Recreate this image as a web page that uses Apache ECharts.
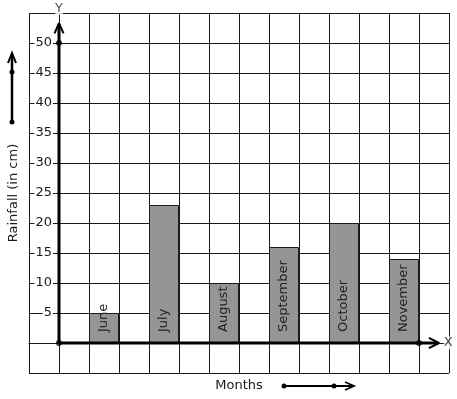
<!DOCTYPE html>
<html>
<head>
<meta charset="utf-8">
<script src="https://cdn.jsdelivr.net/npm/echarts@6/dist/echarts.min.js"></script>
<style>
  html, body { margin: 0; padding: 0; background: #fff; }
  #chart { width: 457px; height: 399px; }
</style>
</head>
<body>
<div id="chart"></div>
<script>
// rainfall per month (cm)
var months = ["June", "July", "August", "September", "October", "November"];
var rainfall = [5, 23, 10, 16, 20, 14];
var yTicks = [5, 10, 15, 20, 25, 30, 35, 40, 45, 50];

var ink = "#1a1a1a";
var font = "DejaVu Sans";

// each month sits in every other grid column, starting at x = 1
var barData = months.map(function (m, i) {
  return { value: [i * 2 + 1.5, rainfall[i]], name: m };
});

var chart = echarts.init(document.getElementById("chart"));

var option = {
  animation: false,
  textStyle: { fontFamily: font },
  grid: { left: 29, top: 13, width: 420, height: 360, containLabel: false, outerBoundsMode: "none" },
  xAxis: {
    type: "value",
    min: -1,
    max: 13,
    interval: 1,
    name: "Months",
    nameLocation: "middle",
    nameGap: 6,
    nameTextStyle: { color: ink, fontSize: 13, fontFamily: font },
    axisLine: { show: true, lineStyle: { color: ink, width: 1 } },
    axisTick: { show: false },
    axisLabel: { show: false },
    splitLine: { show: true, lineStyle: { color: ink, width: 1 } }
  },
  yAxis: {
    type: "value",
    min: -5,
    max: 55,
    interval: 5,
    name: "Rainfall (in cm)",
    nameLocation: "middle",
    nameRotate: 90,
    nameGap: 9,
    nameTextStyle: { color: ink, fontSize: 13, fontFamily: font },
    axisLine: { show: true, lineStyle: { color: ink, width: 1 } },
    axisTick: { show: false },
    axisLabel: {
      inside: true,
      margin: 24,
      align: "right",
      color: ink,
      fontSize: 13,
      fontFamily: font,
      backgroundColor: "#fff",
      padding: [0, 1, 0, 1],
      formatter: function (v) {
        return yTicks.indexOf(v) >= 0 ? String(v) : "";
      }
    },
    splitLine: { show: true, lineStyle: { color: ink, width: 1 } }
  },
  series: [
    {
      type: "bar",
      data: barData,
      barWidth: 30,
      itemStyle: { color: "#959595", borderColor: ink, borderWidth: 1 },
      label: {
        show: true,
        position: "insideBottom",
        distance: 11,
        rotate: 90,
        align: "left",
        verticalAlign: "middle",
        color: "#222",
        fontSize: 13,
        fontFamily: font,
        formatter: function (p) { return p.name; }
      },
      z: 3
    },
    // y axis with arrow head
    {
      type: "line",
      data: [[0, 0], [0, 53.2]],
      symbol: "none",
      lineStyle: { color: "#000", width: 3 },
      z: 5
    },
    {
      type: "line",
      data: [[-0.15, 51.6], [0, 53.3], [0.15, 51.6]],
      symbol: "none",
      lineStyle: { color: "#000", width: 2 },
      z: 5
    },
    // x axis with arrow head
    {
      type: "line",
      data: [[0, 0], [12.6, 0]],
      symbol: "none",
      lineStyle: { color: "#000", width: 3 },
      z: 5
    },
    {
      type: "line",
      data: [[12.33, 0.85], [12.67, 0], [12.33, -0.85]],
      symbol: "none",
      lineStyle: { color: "#000", width: 2 },
      z: 5
    },
    // dots on the axes
    {
      type: "scatter",
      data: [[0, 0], [0, 50], [12, 0]],
      symbolSize: 6,
      itemStyle: { color: "#000" },
      z: 6
    },
    // axis letters
    {
      type: "scatter",
      data: [
        { value: [0, 55], label: { formatter: "Y", position: "top", distance: -2 } },
        { value: [12.97, 0], label: { formatter: "X", position: "inside" } }
      ],
      symbolSize: 0,
      label: { show: true, color: ink, fontSize: 13, fontFamily: font, backgroundColor: "#fff" },
      z: 6
    }
  ],
  graphic: [
    // arrow beside the y axis title
    { type: "line", shape: { x1: 12, y1: 122, x2: 12, y2: 54 }, style: { stroke: "#000", lineWidth: 2.5 } },
    { type: "polyline", shape: { points: [[8, 63], [12, 53], [16, 63]] }, style: { stroke: "#000", lineWidth: 2, fill: null } },
    { type: "circle", shape: { cx: 12, cy: 72, r: 2.5 }, style: { fill: "#000" } },
    { type: "circle", shape: { cx: 12, cy: 122, r: 2.5 }, style: { fill: "#000" } },
    // arrow beside the x axis title
    { type: "line", shape: { x1: 284, y1: 386, x2: 352, y2: 386 }, style: { stroke: "#000", lineWidth: 2 } },
    { type: "polyline", shape: { points: [[345, 382], [354, 386], [345, 390]] }, style: { stroke: "#000", lineWidth: 1.8, fill: null } },
    { type: "circle", shape: { cx: 284, cy: 386, r: 2.5 }, style: { fill: "#000" } },
    { type: "circle", shape: { cx: 334, cy: 386, r: 2.5 }, style: { fill: "#000" } }
  ]
};

chart.setOption(option);
</script>
</body>
</html>
